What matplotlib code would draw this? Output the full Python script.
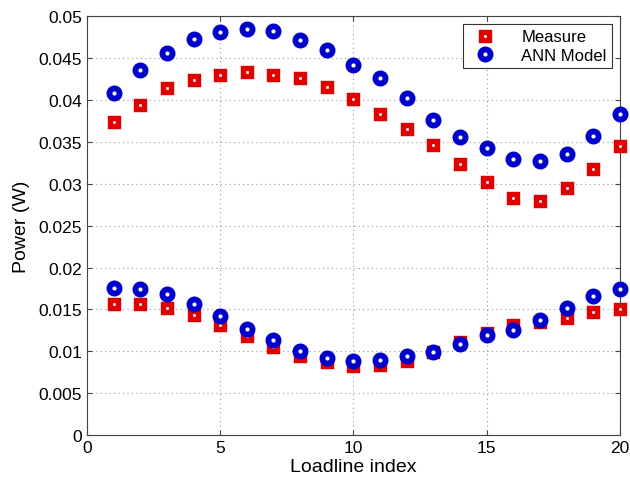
import numpy as np
import matplotlib

matplotlib.use("Agg")
import matplotlib.pyplot as plt
from matplotlib.ticker import FuncFormatter

plt.rcParams["font.family"] = ["Liberation Sans", "DejaVu Sans"]

loadline = np.arange(1, 21)

measure_upper = [0.0374, 0.0394, 0.0414, 0.0424, 0.0430, 0.0433, 0.0430, 0.0426, 0.0415, 0.0401,
                 0.0383, 0.0365, 0.0346, 0.0323, 0.0302, 0.0283, 0.0280, 0.0295, 0.0318, 0.0345]
ann_upper = [0.0408, 0.0436, 0.0456, 0.0473, 0.0481, 0.0485, 0.0482, 0.0471, 0.0459, 0.0442,
             0.0426, 0.0402, 0.0376, 0.0356, 0.0343, 0.0329, 0.0327, 0.0336, 0.0357, 0.0383]
measure_lower = [0.0156, 0.0157, 0.0152, 0.0143, 0.0131, 0.0118, 0.0105, 0.0095, 0.0087, 0.0083,
                 0.0084, 0.0089, 0.0099, 0.0111, 0.0122, 0.0131, 0.0135, 0.0140, 0.0147, 0.0151]
ann_lower = [0.0176, 0.0175, 0.0168, 0.0157, 0.0142, 0.0127, 0.0113, 0.0101, 0.0092, 0.0088,
             0.0090, 0.0094, 0.0099, 0.0109, 0.0119, 0.0126, 0.0138, 0.0152, 0.0166, 0.0175]

fig = plt.figure(figsize=(6.3, 4.89), dpi=100)
ax = fig.add_axes([0.138, 0.108, 0.846, 0.857])

sq = dict(linestyle="none", marker="s", markersize=5.5, markeredgewidth=3.9,
          markerfacecolor="white", markeredgecolor="#e00000", clip_on=False, zorder=3)
ci = dict(linestyle="none", marker="o", markersize=7.3, markeredgewidth=4.2,
          markerfacecolor="white", markeredgecolor="#0000cc", clip_on=False, zorder=4)

ax.plot(loadline, measure_upper, label="Measure", **sq)
ax.plot(loadline, ann_upper, label="ANN Model", **ci)
ax.plot(loadline, measure_lower, **sq)
ax.plot(loadline, ann_lower, **ci)

ax.set_xlim(0, 20)
ax.set_ylim(0, 0.05)
ax.set_xticks([0, 5, 10, 15, 20])
ax.set_yticks(np.arange(0, 0.0501, 0.005))
ax.yaxis.set_major_formatter(FuncFormatter(lambda v, p: "%g" % round(v, 4)))
ax.tick_params(direction="in", top=True, right=True, labelsize=12.5, color="#444444")
for s in ax.spines.values():
    s.set_color("#444444")
ax.grid(True, linestyle=(0, (1, 3)), color="#999999", linewidth=0.8)
ax.set_xlabel("Loadline index", fontsize=14, labelpad=2)
ax.set_ylabel("Power (W)", fontsize=14, labelpad=6)

leg = ax.legend(loc="upper right", fontsize=12, fancybox=False, edgecolor="#333333",
                framealpha=1, borderaxespad=0.5, handletextpad=1.2, borderpad=0.3,
                labelspacing=0.2)
leg.get_frame().set_linewidth(0.8)

fig.savefig("out.png", dpi=100)
